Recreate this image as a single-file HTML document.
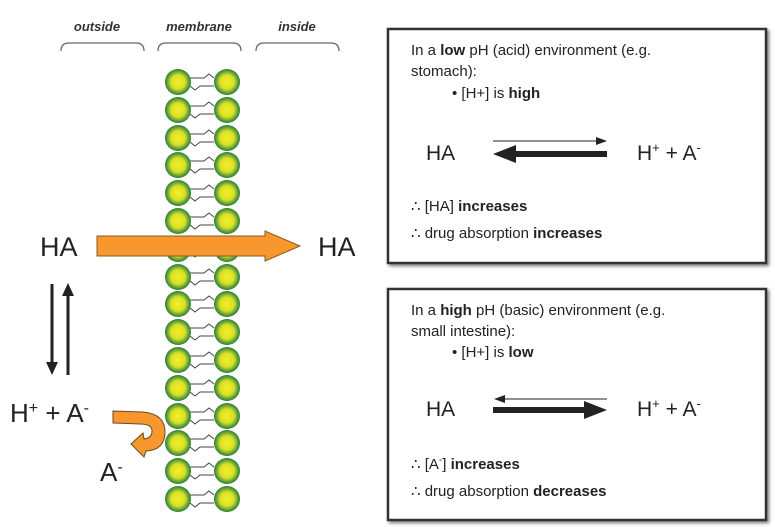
<!DOCTYPE html>
<html><head><meta charset="utf-8"><style>
body{margin:0;background:#fff;}
svg{display:block;font-family:"Liberation Sans",Arial,sans-serif;}
</style></head><body>
<svg width="775" height="527" viewBox="0 0 775 527" xmlns="http://www.w3.org/2000/svg">
<defs>
<radialGradient id="g" cx="0.5" cy="0.5" r="0.5">
<stop offset="0" stop-color="#f4ee2a"/><stop offset="0.55" stop-color="#d9e024"/><stop offset="0.8" stop-color="#6aa83a"/><stop offset="1" stop-color="#2e7d32"/>
</radialGradient>
<filter id="sh" x="-5%" y="-5%" width="115%" height="115%"><feDropShadow dx="2" dy="2" stdDeviation="1.5" flood-color="#000" flood-opacity="0.5"/></filter>
<g id="b">
<path d="M190 -4 H204 L209 -8 L214 -4 M190 4 L195 8 L200 4 H214" stroke="#444" stroke-width="1" fill="none"/>
<circle cx="178" cy="0" r="13" fill="url(#g)"/><circle cx="227" cy="0" r="13" fill="url(#g)"/>
</g>
</defs>
<!-- headers -->
<g font-size="13" font-weight="bold" font-style="italic" fill="#333" text-anchor="middle">
<text x="97" y="31">outside</text><text x="199" y="31">membrane</text><text x="297" y="31">inside</text>
</g>
<g fill="none" stroke="#666" stroke-width="1.3">
<path d="M61 51 Q61 43 69 43 L136 43 Q144 43 144 51"/>
<path d="M158 51 Q158 43 166 43 L233 43 Q241 43 241 51"/>
<path d="M256 51 Q256 43 264 43 L331 43 Q339 43 339 51"/>
</g>
<!-- membrane -->
<use href="#b" y="82"/><use href="#b" y="110"/><use href="#b" y="138"/><use href="#b" y="165"/>
<use href="#b" y="193"/><use href="#b" y="221"/><use href="#b" y="249"/><use href="#b" y="277"/>
<use href="#b" y="304"/><use href="#b" y="332"/><use href="#b" y="360"/><use href="#b" y="388"/>
<use href="#b" y="416"/><use href="#b" y="443"/><use href="#b" y="471"/><use href="#b" y="499"/>
<!-- orange arrow -->
<path d="M97 236 H265 V231 L300 246 L265 261 V256 H97 Z" fill="#f7972e" stroke="#8a5a20" stroke-width="1"/>
<text x="40" y="256" font-size="27" fill="#222">HA</text>
<text x="318" y="256" font-size="27" fill="#222">HA</text>
<!-- equilibrium arrows -->
<line x1="52" y1="284" x2="52" y2="364" stroke="#222" stroke-width="3"/>
<path d="M46 362 L58 362 L52 375 Z" fill="#222"/>
<line x1="68" y1="375" x2="68" y2="294" stroke="#222" stroke-width="3"/>
<path d="M62 296 L74 296 L68 283 Z" fill="#222"/>
<text x="10" y="422" font-size="26" fill="#222">H<tspan font-size="16" dy="-9">+</tspan><tspan dy="9"> + A</tspan><tspan font-size="16" dy="-9">-</tspan></text>
<text x="100" y="481" font-size="26" fill="#222">A<tspan font-size="16" dy="-9">-</tspan></text>
<!-- curved orange arrow -->
<path d="M113 411 L143 412 Q165 414 165 432 Q165 450 146 451 L144 457 L131 444 L143 433 L144 439 Q152 438 152 431 Q152 424 140 424 L113 423 Z" fill="#f7972e" stroke="#6a4a20" stroke-width="1"/>
<!-- boxes -->
<g font-size="15" fill="#222">
<rect x="388" y="29" width="378" height="234" fill="#fff" stroke="#333" stroke-width="2.5" filter="url(#sh)"/>
<text x="411" y="55">In a <tspan font-weight="bold">low</tspan> pH (acid) environment (e.g.</text>
<text x="411" y="76">stomach):</text>
<text x="452" y="98">• [H+] is <tspan font-weight="bold">high</tspan></text>
<text x="426" y="160" font-size="21">HA</text>
<text x="637" y="160" font-size="21">H<tspan font-size="13" dy="-8">+</tspan><tspan dy="8"> + A</tspan><tspan font-size="13" dy="-8">-</tspan></text>
<line x1="493" y1="141" x2="598" y2="141" stroke="#222" stroke-width="1"/><path d="M596 137 L607 141 L596 145Z" fill="#222"/>
<rect x="513" y="151" width="94" height="6" fill="#222"/><path d="M493 154 L516 145 L516 163Z" fill="#222"/>
<text x="411" y="211">∴  [HA] <tspan font-weight="bold">increases</tspan></text>
<text x="411" y="238">∴ drug absorption <tspan font-weight="bold">increases</tspan></text>

<rect x="388" y="289" width="378" height="231" fill="#fff" stroke="#333" stroke-width="2.5" filter="url(#sh)"/>
<text x="411" y="315">In a <tspan font-weight="bold">high</tspan> pH (basic) environment (e.g.</text>
<text x="411" y="336">small intestine):</text>
<text x="452" y="357">• [H+] is <tspan font-weight="bold">low</tspan></text>
<text x="426" y="416" font-size="21">HA</text>
<text x="637" y="416" font-size="21">H<tspan font-size="13" dy="-8">+</tspan><tspan dy="8"> + A</tspan><tspan font-size="13" dy="-8">-</tspan></text>
<line x1="503" y1="399" x2="607" y2="399" stroke="#222" stroke-width="1"/><path d="M505 395 L494 399 L505 403Z" fill="#222"/>
<rect x="493" y="407" width="94" height="6" fill="#222"/><path d="M607 410 L584 401 L584 419Z" fill="#222"/>
<text x="411" y="469">∴  [A<tspan font-size="10" dy="-6">-</tspan><tspan dy="6">] </tspan><tspan font-weight="bold">increases</tspan></text>
<text x="411" y="496">∴ drug absorption <tspan font-weight="bold">decreases</tspan></text>
</g>
</svg>
</body></html>
